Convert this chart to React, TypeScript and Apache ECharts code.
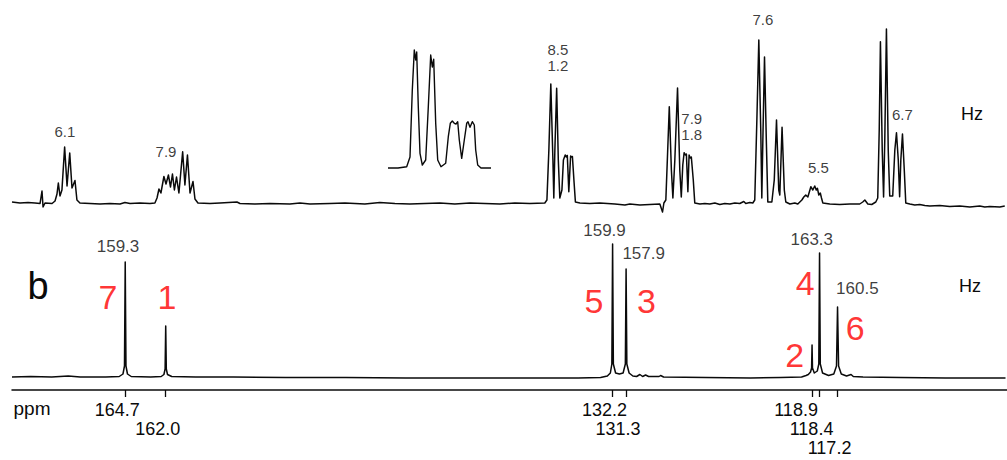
import React, { useEffect, useRef } from 'react';
import * as echarts from 'echarts';

// ---------- axis range (ppm, drawn reversed) ----------
const PPM_MAX = 172.25;
const PPM_MIN = 105.9;

// ---------- spectrum b : proton-decoupled 13C lines ----------
const peakPpm = [164.7, 162.0, 132.2, 131.3, 118.9, 118.4, 117.2];
const tickLabels = ['164.7', '162.0', '132.2', '131.3', '118.9', '118.4', '117.2'];
const peakAssignment = ['7', '1', '5', '3', '2', '4', '6'];
const couplingHz = ['159.3', '159.9', '157.9', '163.3', '160.5'];

// decoupled trace [ppm, intensity]
const decoupledTrace: [number, number][] = [
  [172.25, 1], [171.0, 1.5], [169.6, 1], [168.5, 2], [167.7, 1], [166.0, 1], [165.1, 1.5],
  [164.85, 4], [164.75, 12], [164.7, 116], [164.65, 12], [164.55, 4], [164.3, 1.5],
  [163.0, 1], [162.3, 1.5], [162.12, 3.5], [162.04, 9], [162.0, 52], [161.96, 9], [161.88, 3.5],
  [161.6, 1.5], [160.0, 1], [157.5, 1], [154.0, 0.5], [150.0, 0.5], [146.0, 0], [142.0, 0],
  [138.0, 0], [134.5, 0], [133.0, 0.5], [132.55, 2], [132.35, 5], [132.25, 14], [132.2, 134],
  [132.15, 14], [132.0, 5], [131.75, 4], [131.5, 5], [131.35, 14], [131.3, 109], [131.25, 14],
  [131.1, 5], [130.85, 2], [130.6, 1.5], [130.38, 3.5], [130.2, 1.5], [130.0, 3], [129.8, 1.5],
  [129.1, 1.5], [129.0, 2.5], [128.8, 1], [126.0, 0.5], [123.0, 0], [121.0, 0.5], [119.6, 1],
  [119.3, 2.5], [119.15, 3.5], [119.0, 6], [118.93, 10], [118.9, 33], [118.87, 10], [118.75, 5],
  [118.55, 7], [118.45, 14], [118.4, 125], [118.35, 14], [118.2, 5], [117.8, 2.5], [117.45, 4],
  [117.27, 12], [117.2, 71], [117.13, 12], [116.95, 4], [116.6, 2], [116.3, 3.5], [116.15, 1.5],
  [115.5, 1], [113.0, 0.5], [110.0, 0], [106.0, 0],
];

// ---------- coupled (upper) spectrum ----------
const coupledTrace: [number, number][] = [
  [172.25, 2], [171.72, 1], [171.18, 1.5], [170.72, 1], [170.38, 0.5], [170.25, 13], [170.18, -3],
  [170.05, 1], [169.58, 0.5], [169.38, 3], [169.25, 10], [169.16, 21], [169.05, 8], [168.92, 14],
  [168.74, 57], [168.58, 18], [168.4, 51], [168.25, 16], [168.05, 23.5], [167.92, 4], [167.72, 1],
  [167.05, 0.5], [166.38, 0], [165.72, 0.5], [165.05, 0], [164.72, 1.5], [164.38, 0.5], [163.72, 1],
  [163.05, 0.5], [162.72, 1], [162.58, 6], [162.45, 15], [162.32, 11], [162.12, 27.5], [161.98, 20],
  [161.82, 29], [161.68, 17], [161.55, 30], [161.42, 14], [161.28, 27], [161.12, 11], [160.87, 52.3],
  [160.72, 19], [160.55, 49], [160.38, 11], [160.18, 22.5], [160.05, 5], [159.85, 1], [159.05, 0.5],
  [158.38, 1], [157.25, 2], [157.05, 0.5], [156.05, 0], [155.05, 0.5], [153.72, 0], [153.05, 1],
  [152.38, 0], [151.05, 0.5], [150.05, 1], [149.38, 0.5], [148.72, 0], [147.72, 1.5], [146.72, 0.5],
  [145.72, 0], [144.72, 0.5], [143.72, 1], [142.72, 0], [141.72, 1], [140.72, 0.5], [139.72, 0],
  [138.72, 1], [137.72, 0.5], [136.72, 1], [136.58, 4], [136.45, 54], [136.32, 120], [136.18, 44],
  [136.12, 6], [136.05, 54], [135.93, 115.7], [135.82, 44], [135.72, 6], [135.58, 14], [135.48, 44],
  [135.36, 49], [135.28, 47], [135.22, 48.5], [135.12, 12.3], [135.0, 48], [134.95, 47], [134.88, 47.5],
  [134.78, 24], [134.68, 2], [134.38, 1], [133.72, 0.5], [133.05, 1], [132.05, 0], [131.38, -1],
  [131.05, 0], [130.38, -1], [129.72, -0.5], [129.05, 0], [128.87, -8], [128.78, 1], [128.65, 4],
  [128.55, 44], [128.42, 97.3], [128.28, 34], [128.18, 6], [128.05, 44], [127.87, 116], [127.72, 34],
  [127.62, 7], [127.52, 39], [127.43, 51.3], [127.35, 49], [127.28, 50], [127.18, 12.3], [127.1, 49],
  [127.02, 46], [126.95, 47], [126.82, 24], [126.72, 1], [126.38, 0], [126.05, 0.5], [125.72, 0],
  [125.38, 1], [125.05, -0.5], [124.72, 0.5], [124.38, 0], [124.05, 1], [123.72, 0.5], [123.45, 2.5],
  [123.32, 0.5], [123.05, 1.5], [122.85, 1], [122.72, 4], [122.58, 84], [122.45, 164], [122.32, 74],
  [122.25, 6], [122.18, 64], [122.07, 147], [121.95, 64], [121.85, 2], [121.58, 2], [121.42, 24],
  [121.27, 84], [121.12, 14], [121.05, 9], [120.9, 76.7], [120.75, 14], [120.65, 2], [120.38, 0],
  [120.05, 1], [119.85, 0], [119.58, 4], [119.45, 7], [119.32, 9], [119.18, 7], [118.98, 17.3],
  [118.85, 14], [118.72, 18], [118.62, 14], [118.54, 15.7], [118.45, 9], [118.35, 11], [118.27, 6],
  [118.18, 1], [117.72, 0], [117.05, -0.5], [116.38, 0], [115.72, 0], [115.52, 2], [115.38, 4],
  [115.18, 0], [114.92, -0.5], [114.65, 2], [114.52, 6], [114.42, 74], [114.34, 162.3], [114.22, 54],
  [114.13, 7], [114.05, 64], [113.94, 175], [113.82, 54], [113.72, 8], [113.52, 8], [113.38, 54],
  [113.27, 71.3], [113.15, 44], [113.06, 7.3], [112.98, 44], [112.87, 70], [112.75, 34], [112.65, 1],
  [112.38, 0], [112.05, -1], [111.72, -0.5], [111.38, -1.5], [111.05, -2], [110.38, -1.5],
  [109.72, -2.5], [109.05, -2], [108.38, -3], [107.72, -2], [107.38, -3], [107.05, -2.5],
  [106.38, -3], [106.05, -2],
];

// coupling constants (Hz) written above the multiplets
const multipletJ = ['6.1', '7.9', '8.5\n1.2', '7.9\n1.8', '7.6', '5.5', '6.7'];

// expanded multiplet (inset), arbitrary frequency units
const insetTrace: [number, number][] = [
  [0, 0], [10, 0], [18.7, 1.3], [22, 11], [24.3, 78], [26.3, 118], [27.7, 108], [28.7, 116],
  [30.3, 61], [32, 14.7], [34.3, 3], [37.7, 8], [40.3, 61], [42.7, 113], [44.3, 101], [45.7, 108.7],
  [47.7, 44.7], [49.7, 8], [53, 1.3], [57.7, 4.7], [60.3, 31.3], [62.3, 44.7], [64.3, 47],
  [66.3, 44.7], [68, 44], [69.7, 46.3], [71.3, 28], [73.7, 9.7], [76.3, 28], [78.7, 44.7], [80, 46.3],
  [82, 40.7], [84.3, 46.3], [86.3, 43], [87.7, 18], [89.7, 3], [93, 0], [103, 0],
];

// ---------- layout (label anchor points in data coordinates) ----------
const multipletJAt = [
  [168.72, 73], [161.98, 52.3], [135.85, 147], [126.92, 77.5], [122.18, 185], [118.48, 36.5], [112.88, 90],
];
const couplingAt = [[165.18, 132], [132.74, 147.3], [130.13, 124.7], [118.92, 139], [115.88, 90]];
const assignmentAt = [
  [165.85, 81], [161.92, 81], [133.45, 77], [129.94, 77], [120.05, 23], [119.35, 95], [116.02, 50.5],
];
const tickRow = [0, 1, 0, 1, 0, 1, 2];
const tickExtraShift = [false, false, false, false, true, false, false];

const FONT = '"Liberation Sans", Arial, Helvetica, sans-serif';
const INK = '#0a0a0a';
const RED = '#ff0000';

function buildOption(): echarts.EChartsOption {
  const traceLine = { color: INK, width: 1.5, join: 'round' as const };
  const labelSeries = (
    xi: number,
    texts: string[],
    at: number[][],
    size: number,
    color: string,
    lineHeight: number,
  ) => ({
    type: 'scatter' as const,
    xAxisIndex: xi,
    yAxisIndex: xi,
    symbolSize: 0,
    silent: true,
    clip: false,
    data: texts.map((t, i) => ({ name: t, value: at[i] })),
    label: {
      show: true,
      position: 'inside' as const,
      formatter: '{b}',
      fontFamily: FONT,
      fontSize: size,
      color,
      textBorderWidth: 0,
      lineHeight,
      align: 'center' as const,
      verticalAlign: 'middle' as const,
    },
  });

  // empty end labels keep the automatic min/max-label overlap check away from real labels
  const labelValues = [PPM_MIN, ...peakPpm, PPM_MAX];

  return {
    animation: false,
    backgroundColor: '#ffffff',
    grid: [
      { left: 12, right: 0, top: 14, height: 200, outerBoundsMode: 'none', containLabel: false },
      { left: 12, right: 0, top: 190, height: 200, outerBoundsMode: 'none', containLabel: false },
      { left: 388, top: 40, width: 103, height: 130, outerBoundsMode: 'none', containLabel: false },
    ] as any,
    xAxis: [
      { gridIndex: 0, type: 'value', inverse: true, min: PPM_MIN, max: PPM_MAX, show: false },
      {
        gridIndex: 1,
        type: 'value',
        inverse: true,
        min: PPM_MIN,
        max: PPM_MAX,
        splitLine: { show: false },
        axisLine: { show: true, onZero: false, lineStyle: { color: INK, width: 1.5 } },
        axisTick: {
          show: true,
          customValues: peakPpm,
          length: 7,
          inside: false,
          lineStyle: { color: INK, width: 1.3 },
        },
        axisLabel: {
          show: true,
          customValues: labelValues,
          hideOverlap: false,
          showMinLabel: true,
          showMaxLabel: true,
          margin: 10,
          fontFamily: FONT,
          fontSize: 18,
          lineHeight: 19,
          color: INK,
          padding: [0, 16, 0, 0],
          formatter: (v: number) => {
            const i = peakPpm.findIndex((p) => Math.abs(p - v) < 1e-6);
            if (i < 0) return '';
            const txt = tickExtraShift[i] ? `{w|${tickLabels[i]}}` : tickLabels[i];
            return '\n'.repeat(tickRow[i]) + txt;
          },
          rich: {
            w: { fontFamily: FONT, fontSize: 18, lineHeight: 19, color: INK, padding: [0, 16, 0, 0] },
          },
        },
      },
      { gridIndex: 2, type: 'value', min: 0, max: 103, show: false },
    ],
    yAxis: [
      { gridIndex: 0, type: 'value', min: -10, max: 190, show: false },
      { gridIndex: 1, type: 'value', min: -12, max: 188, show: false },
      { gridIndex: 2, type: 'value', min: -2, max: 128, show: false },
    ],
    series: [
      {
        type: 'line',
        xAxisIndex: 0,
        yAxisIndex: 0,
        data: coupledTrace,
        showSymbol: false,
        symbol: 'none',
        clip: false,
        lineStyle: traceLine,
        silent: true,
      },
      {
        type: 'line',
        xAxisIndex: 1,
        yAxisIndex: 1,
        data: decoupledTrace,
        showSymbol: false,
        symbol: 'none',
        clip: false,
        lineStyle: traceLine,
        silent: true,
      },
      {
        type: 'line',
        xAxisIndex: 2,
        yAxisIndex: 2,
        data: insetTrace,
        showSymbol: false,
        symbol: 'none',
        clip: false,
        lineStyle: { color: INK, width: 1.4, join: 'round' },
        silent: true,
      },
      labelSeries(0, multipletJ, multipletJAt, 15, INK, 16),
      labelSeries(1, couplingHz, couplingAt, 17, INK, 18),
      labelSeries(1, peakAssignment, assignmentAt, 34, RED, 34),
    ],
    graphic: [
      {
        type: 'text',
        x: 38,
        y: 286,
        silent: true,
        style: { text: 'b', fontFamily: FONT, fontSize: 38, fill: INK, align: 'center', verticalAlign: 'middle' },
      },
      {
        type: 'text',
        x: 32,
        y: 408,
        silent: true,
        style: { text: 'ppm', fontFamily: FONT, fontSize: 19, fill: INK, align: 'center', verticalAlign: 'middle' },
      },
      {
        type: 'text',
        x: 972,
        y: 114,
        silent: true,
        style: { text: 'Hz', fontFamily: FONT, fontSize: 18, fill: INK, align: 'center', verticalAlign: 'middle' },
      },
      {
        type: 'text',
        x: 970,
        y: 286,
        silent: true,
        style: { text: 'Hz', fontFamily: FONT, fontSize: 18, fill: INK, align: 'center', verticalAlign: 'middle' },
      },
    ],
  };
}

export default function App() {
  const ref = useRef<HTMLDivElement>(null);
  useEffect(() => {
    document.body.style.margin = '0';
    if (!ref.current) return;
    const chart = echarts.init(ref.current, undefined, { renderer: 'svg' });
    chart.setOption(buildOption());
    return () => chart.dispose();
  }, []);
  return (
    <div
      ref={ref}
      style={{ position: 'absolute', left: 0, top: 0, width: 1007, height: 460, background: '#fff' }}
    />
  );
}
